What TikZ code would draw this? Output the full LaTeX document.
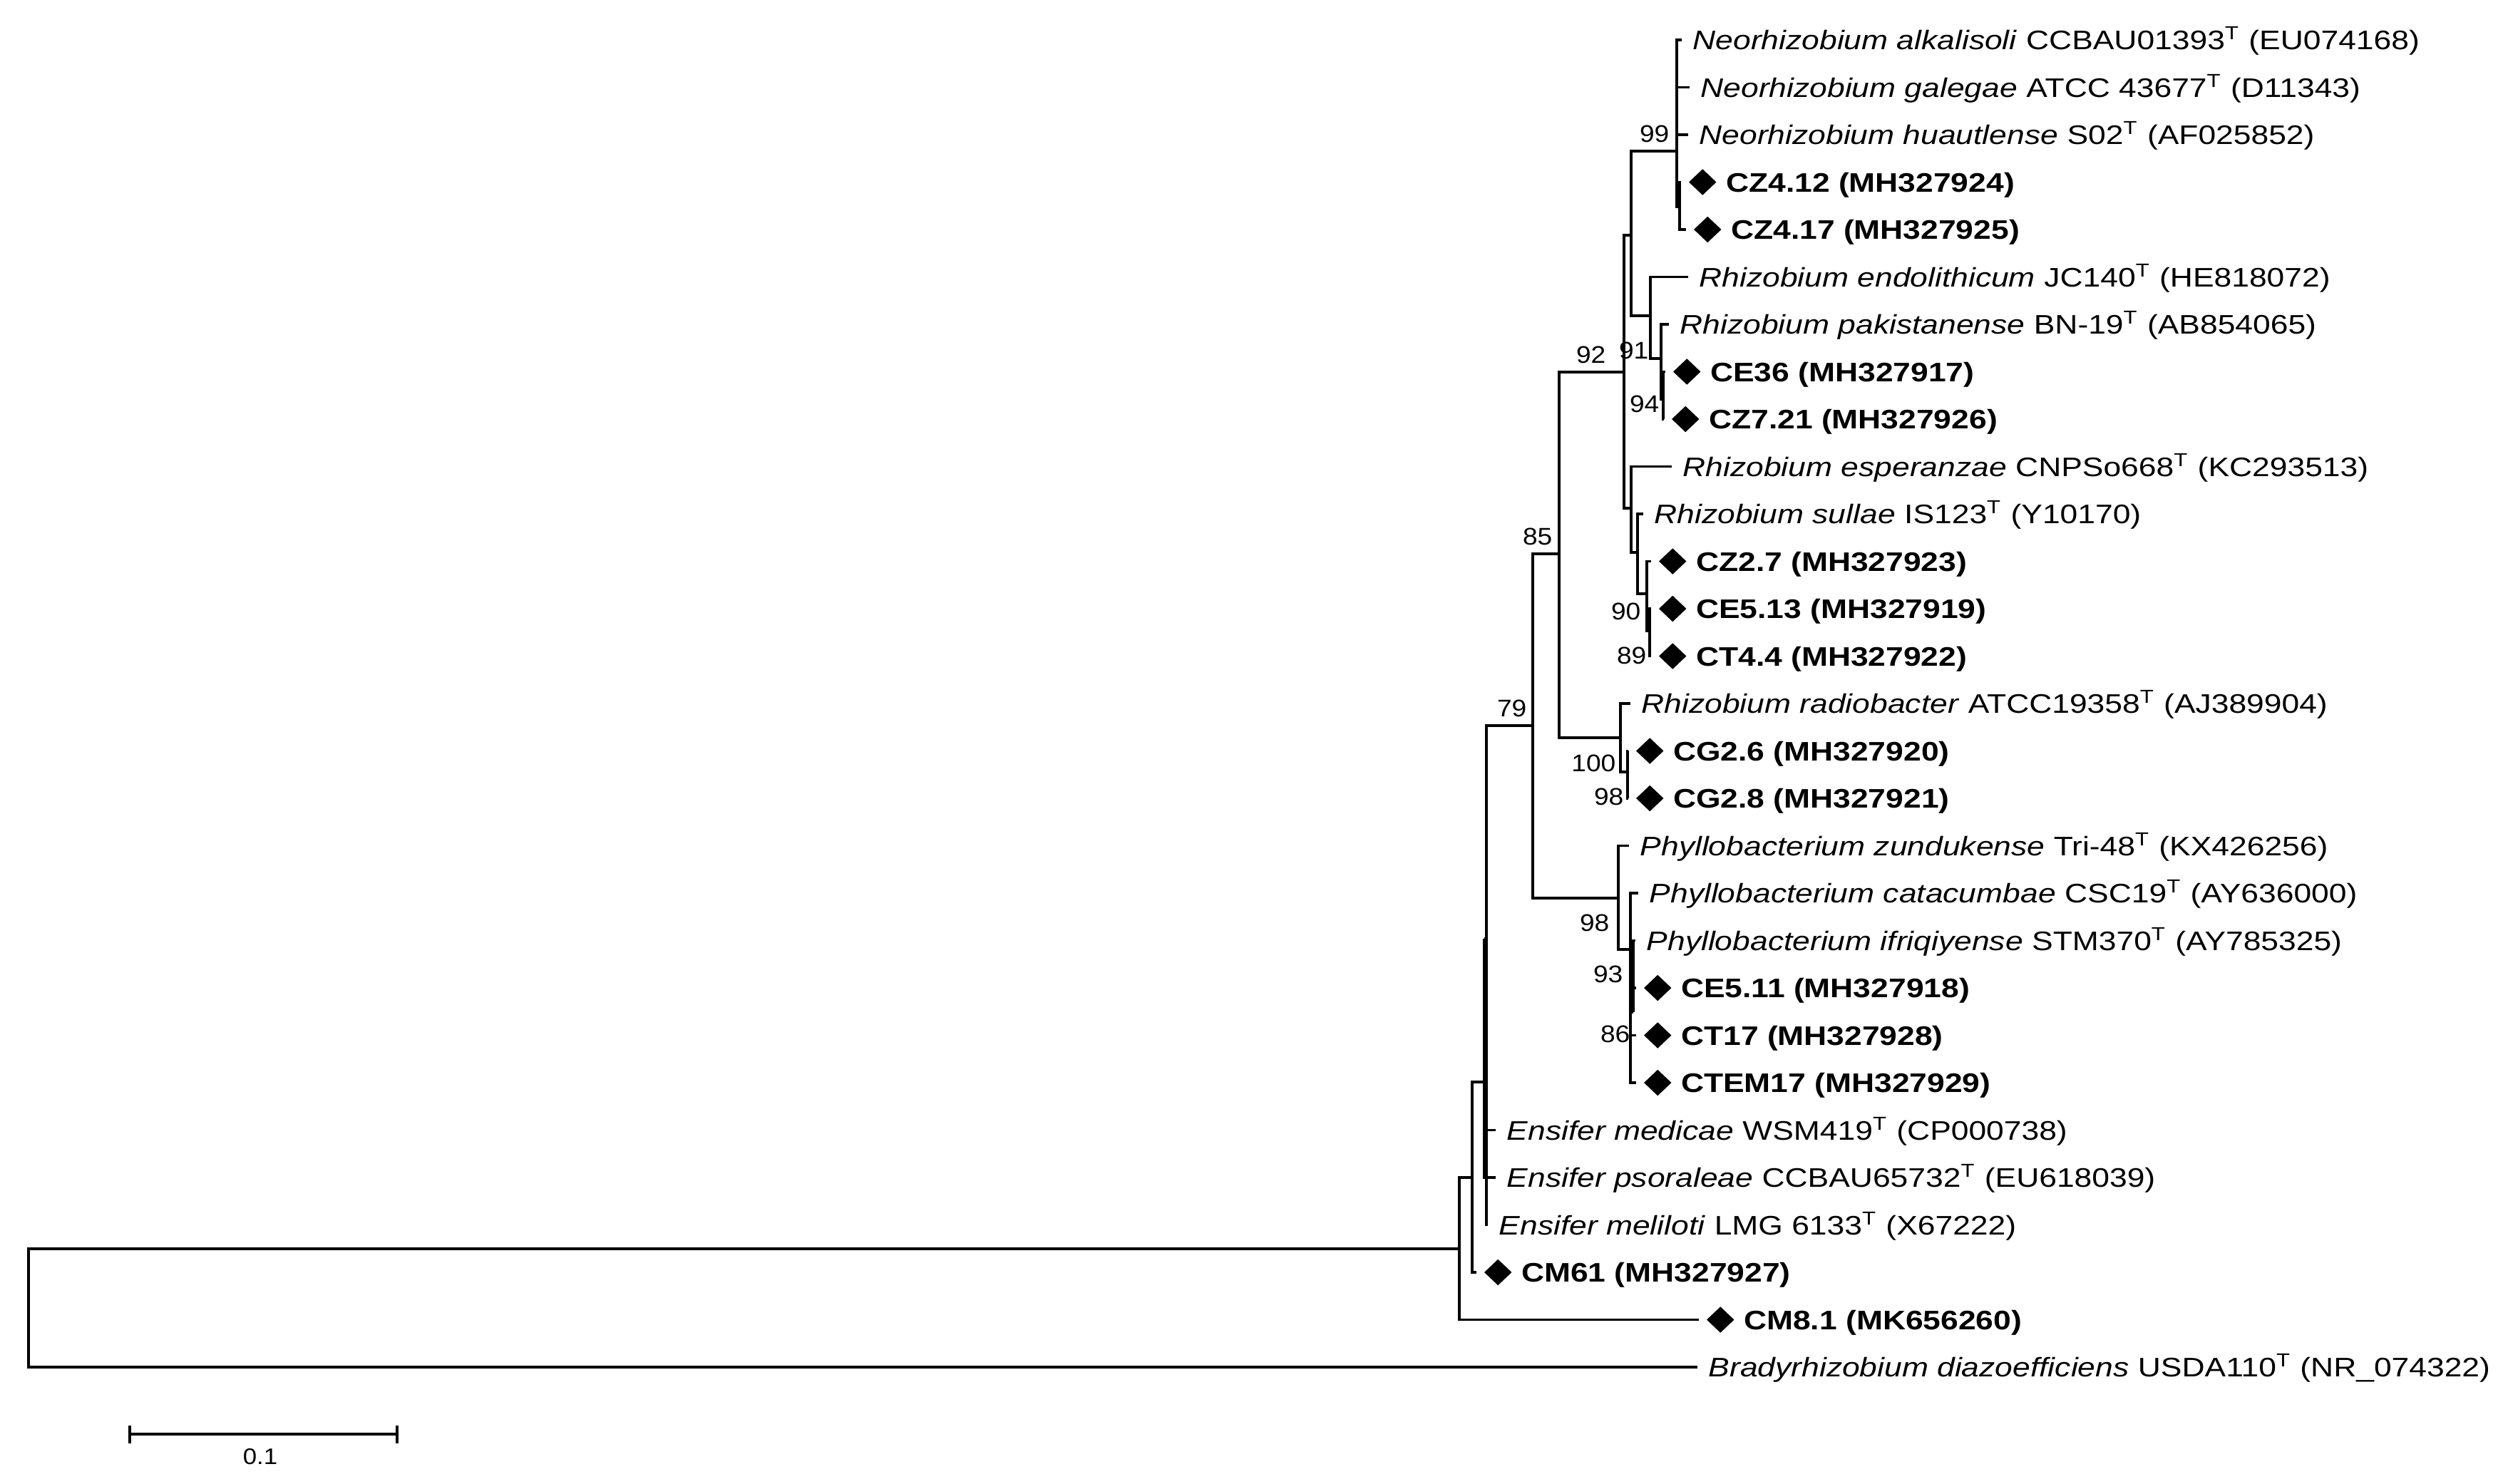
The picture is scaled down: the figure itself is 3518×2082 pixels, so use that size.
\documentclass[tikz,border=0pt]{standalone}
\usepackage{fontspec}
\setmainfont{Liberation Sans}
\usepackage{graphicx}
\usepackage{tikz}
\usetikzlibrary{positioning,shapes.geometric}

\newcommand\wide[1]{\scalebox{1.1}[1]{#1}}
\newcommand\wider[1]{\scalebox{1.18}[1]{#1}}
\newcommand\taxon[3]{\wider{\textit{#1} #2\textsuperscript{T} (#3)}}
\newcommand\isol[2]{\wider{\textbf{#1 (#2)}}}

\tikzset{
  branch/.style={line width=1.1pt},
  taxlab/.style={inner sep=0pt, text height=7.7pt, text depth=0pt,
                 font=\fontsize{10.7}{12}\selectfont},
  isolab/.style={taxlab, font=\fontsize{10.7}{12}\selectfont\bfseries},
  mk/.style={diamond, fill=black, inner sep=0pt,
             minimum width=0.39cm, minimum height=0.37cm},
  boot/.style={anchor=east, inner sep=0pt, text height=6.9pt, text depth=0pt,
               font=\fontsize{9.6}{11}\selectfont},
}

\begin{document}
\begin{tikzpicture}[x=0.01cm,y=-0.01cm]
\path[fill=white, use as bounding box] (0,0) rectangle (3518,2082);
% internal nodes
\coordinate (root) at (40,1835);
\coordinate (ingr) at (2047,1752);
\coordinate (n1) at (2065,1652);
\coordinate (ens) at (2085,1518);
\coordinate (ensb) at (2082,1317);
\coordinate (b79) at (2150,1018);
\coordinate (b85) at (2187,777);
\coordinate (b92) at (2278,522);
\coordinate (nA) at (2288,330);
\coordinate (neo) at (2352,212);
\coordinate (cz4) at (2356,290);
\coordinate (nR) at (2315,443);
\coordinate (b91) at (2330,503);
\coordinate (b94) at (2333,560);
\coordinate (nB) at (2288,713);
\coordinate (nC) at (2297,775);
\coordinate (b90) at (2310,833);
\coordinate (b89) at (2314,885);
\coordinate (rad) at (2273,1035);
\coordinate (b100) at (2283,1083);
\coordinate (phy) at (2270,1260);
\coordinate (b98) at (2287,1332);
\coordinate (b93) at (2291,1420);
% tips
\coordinate (alk) at (2359,56);
\coordinate (gal) at (2370,122.5);
\coordinate (hua) at (2368,189);
\coordinate (cz412) at (2358,255.5);
\coordinate (cz417) at (2365,322);
\coordinate (endo) at (2368,388.5);
\coordinate (pak) at (2341,455);
\coordinate (ce36) at (2336,521.5);
\coordinate (cz721) at (2334,588);
\coordinate (esp) at (2345,654.5);
\coordinate (sul) at (2305,721);
\coordinate (cz27) at (2316,787.5);
\coordinate (ce513) at (2316,854);
\coordinate (ct44) at (2316,920.5);
\coordinate (radb) at (2287,987);
\coordinate (cg26) at (2284,1053.5);
\coordinate (cg28) at (2284,1120);
\coordinate (zund) at (2285,1186.5);
\coordinate (cata) at (2298,1253);
\coordinate (ifr) at (2294,1319.5);
\coordinate (ce511) at (2295,1386);
\coordinate (ct17) at (2295,1452.5);
\coordinate (ctem) at (2295,1519);
\coordinate (emed) at (2098,1585.5);
\coordinate (epso) at (2098,1652);
\coordinate (emel) at (2087,1718.5);
\coordinate (cm61) at (2071,1785);
\coordinate (cm81) at (2383,1851.5);
\coordinate (brady) at (2381,1918);

\foreach \p/\c in {root/ingr, root/brady, ingr/n1, ingr/cm81, n1/ens, n1/cm61,
    ens/b79, ens/ensb, ens/emel, ensb/emed, ensb/epso,
    b79/b85, b79/phy, b85/b92, b85/rad, b92/nA, b92/nB,
    nA/neo, nA/nR, neo/alk, neo/gal, neo/hua, neo/cz4, cz4/cz412, cz4/cz417,
    nR/endo, nR/b91, b91/pak, b91/b94, b94/ce36, b94/cz721,
    nB/esp, nB/nC, nC/sul, nC/b90, b90/cz27, b90/b89, b89/ce513, b89/ct44,
    rad/radb, rad/b100, b100/cg26, b100/cg28,
    phy/zund, phy/b98, b98/cata, b98/b93, b98/ct17, b98/ctem, b93/ifr, b93/ce511}
  \draw[branch] (\p) |- (\c);

\foreach \tip/\txt in {
    alk/{\taxon{Neorhizobium alkalisoli}{CCBAU01393}{EU074168}},
    gal/{\taxon{Neorhizobium galegae}{ATCC 43677}{D11343}},
    hua/{\taxon{Neorhizobium huautlense}{S02}{AF025852}},
    endo/{\taxon{Rhizobium endolithicum}{JC140}{HE818072}},
    pak/{\taxon{Rhizobium pakistanense}{BN-19}{AB854065}},
    esp/{\taxon{Rhizobium esperanzae}{CNPSo668}{KC293513}},
    sul/{\taxon{Rhizobium sullae}{IS123}{Y10170}},
    radb/{\taxon{Rhizobium radiobacter}{ATCC19358}{AJ389904}},
    zund/{\taxon{Phyllobacterium zundukense}{Tri-48}{KX426256}},
    cata/{\taxon{Phyllobacterium catacumbae}{CSC19}{AY636000}},
    ifr/{\taxon{Phyllobacterium ifriqiyense}{STM370}{AY785325}},
    emed/{\taxon{Ensifer medicae}{WSM419}{CP000738}},
    epso/{\taxon{Ensifer psoraleae}{CCBAU65732}{EU618039}},
    emel/{\taxon{Ensifer meliloti}{LMG 6133}{X67222}},
    brady/{\taxon{Bradyrhizobium diazoefficiens}{USDA110}{NR\_074322}}}
  \node[taxlab, right=0.15cm of \tip] (\tip-l) {\txt};

\foreach \tip/\id/\acc in {cz412/CZ4.12/MH327924, cz417/CZ4.17/MH327925,
    ce36/CE36/MH327917, cz721/CZ7.21/MH327926, cz27/CZ2.7/MH327923,
    ce513/CE5.13/MH327919, ct44/CT4.4/MH327922, cg26/CG2.6/MH327920,
    cg28/CG2.8/MH327921, ce511/CE5.11/MH327918, ct17/CT17/MH327928,
    ctem/CTEM17/MH327929, cm61/CM61/MH327927, cm81/CM8.1/MK656260}{
  \node[mk, right=0.1cm of \tip] (\tip-m) {};
  \node[isolab, right=0.12cm of \tip-m] (\tip-l) {\isol{\id}{\acc}};
}

\foreach \n/\txt/\x/\y in {bs99/99/2342/187, bs92/92/2253/497, bs91/91/2313/491,
    bs94/94/2328/566, bs85/85/2178/752, bs79/79/2142/993, bs90/90/2302/857,
    bs89/89/2310/919, bs100/100/2267/1070, bs98a/98/2278/1117,
    bs98b/98/2258/1294, bs93/93/2277/1366, bs86/86/2287/1450}
  \node[boot] (\n) at (\x,\y) {\wide{\txt}};

\coordinate (sb-l) at (182,2012);
\coordinate (sb-r) at (557,2012);
\draw[line width=0.9pt] (sb-l) -- (sb-r);
\draw[line width=0.9pt] ([yshift=0.125cm]sb-l) -- ([yshift=-0.125cm]sb-l);
\draw[line width=0.9pt] ([yshift=0.125cm]sb-r) -- ([yshift=-0.125cm]sb-r);
\node[inner sep=0pt, text height=6.5pt, text depth=0pt, font=\fontsize{9}{10}\selectfont]
  (sb-t) at (365,2043) {\wide{0.1}};
\end{tikzpicture}
\end{document}
